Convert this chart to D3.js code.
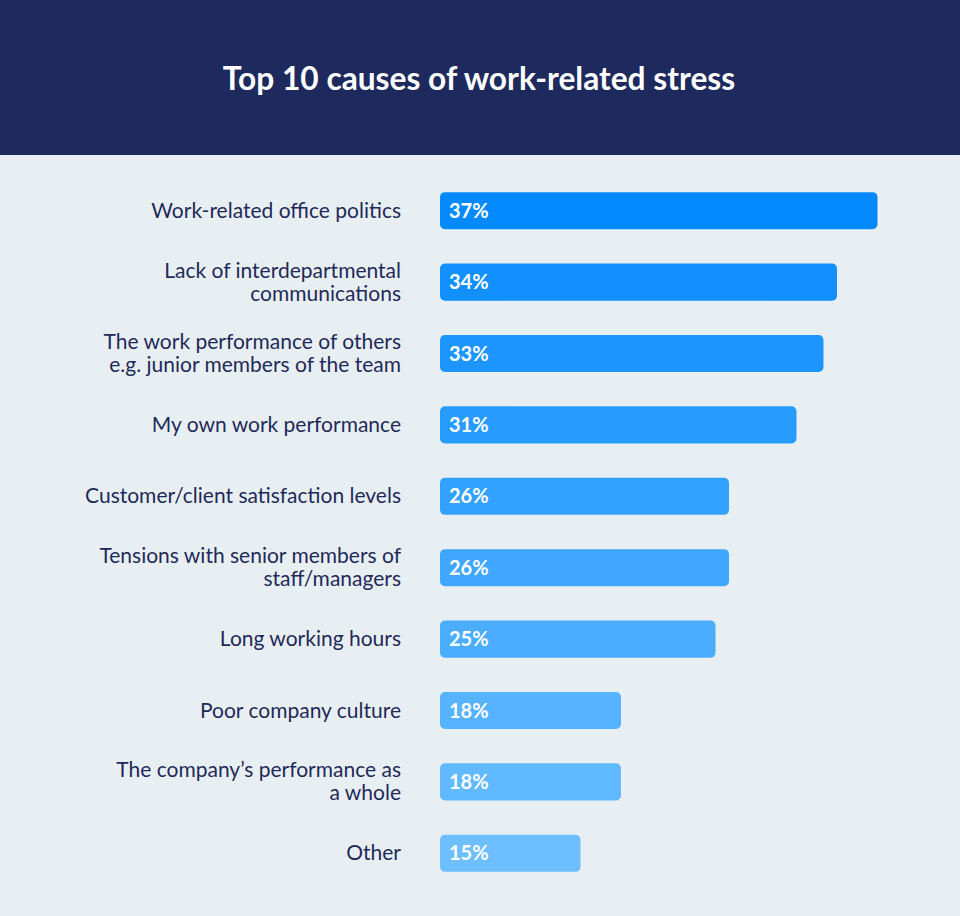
<!DOCTYPE html>
<html><head><meta charset="utf-8">
<script src="https://cdn.jsdelivr.net/npm/d3@7"></script>
<style>body{margin:0;background:#e8eff2;}svg{display:block;}</style>
</head><body>
<svg id="chart" width="960" height="916"></svg>
<script>
const title = "Top 10 causes of work-related stress";
const categories = [
  ["Work-related office politics"],
  ["Lack of interdepartmental", "communications"],
  ["The work performance of others", "e.g. junior members of the team"],
  ["My own work performance"],
  ["Customer/client satisfaction levels"],
  ["Tensions with senior members of", "staff/managers"],
  ["Long working hours"],
  ["Poor company culture"],
  ["The company\u2019s performance as", "a whole"],
  ["Other"]
];
const values = [37, 34, 33, 31, 26, 26, 25, 18, 18, 15];

const svg = d3.select("#chart");
const W = 960, H = 916;
svg.append("rect").attr("width", W).attr("height", H).attr("fill", "#e8eff2");
svg.append("rect").attr("width", W).attr("height", 155).attr("fill", "#1e2a5e");
svg.append("text").attr("x", W/2 - 1).attr("y", 90).attr("text-anchor", "middle")
  .attr("fill", "#ffffff").attr("font-family", "Lato, sans-serif").attr("font-weight", 700)
  .attr("font-size", 31.7).text(title);

const idx = d3.range(values.length);
const y = d3.scaleBand().domain(idx).range([175, 889]).paddingInner(0.48).paddingOuter(0.24);
const x = d3.scaleLinear().domain([0, 37]).range([440 - 62, 440 - 62 + 13.5 * 37]);
const color = d3.scaleLinear().domain([0, values.length - 1]).range(["#058afe", "#6dbfff"]);

const g = svg.append("g");
const rows = g.selectAll("g.row").data(idx).join("g").attr("class", "row");
rows.append("rect")
  .attr("x", 440).attr("y", i => y(i))
  .attr("width", i => x(values[i]) - 440).attr("height", y.bandwidth())
  .attr("rx", 5).attr("fill", i => color(i));
rows.append("text")
  .attr("x", 449).attr("y", i => y(i) + y.bandwidth()/2 + 7)
  .attr("fill", "#ffffff").attr("font-family", "Lato, sans-serif").attr("font-weight", 700)
  .attr("font-size", 20).text(i => values[i] + "%");
rows.each(function(i) {
  const lines = categories[i];
  const cy = y(i) + y.bandwidth()/2;
  const lh = 23;
  const t = d3.select(this).append("text")
    .attr("text-anchor", "end").attr("fill", "#1f2a5a")
    .attr("font-family", "Lato, sans-serif").attr("font-size", 21);
  lines.forEach((ln, k) => {
    t.append("tspan").attr("x", 401)
      .attr("y", cy + (k - (lines.length - 1)/2) * lh + 7).text(ln);
  });
});
</script>
</body></html>
